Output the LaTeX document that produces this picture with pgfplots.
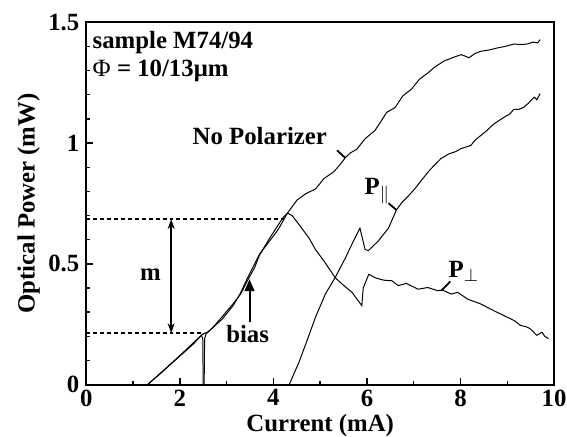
\documentclass[border=0pt]{standalone}
\usepackage{fontspec}
\setmainfont{Liberation Serif}
\usepackage{pgfplots}
\pgfplotsset{compat=1.18}
\usetikzlibrary{arrows.meta}
\begin{document}
\newcommand{\ff}{\fontsize{12.5}{14}\selectfont\bfseries}
\begin{tikzpicture}
\begin{axis}[
  scale only axis, width=236pt, height=182.75pt,
  xmin=0, xmax=10, ymin=0, ymax=1.5,
  axis line style={line width=1pt},
  tick pos=left, tick align=inside,
  xtick={0,2,4,6,8,10}, minor xtick={1,3,5,7,9},
  ytick={0,0.5,1,1.5}, minor ytick={0.1,0.2,0.3,0.4,0.6,0.7,0.8,0.9,1.1,1.2,1.3,1.4},
  major tick length=3.5pt, minor tick length=2pt,
  every tick/.style={line width=0.7pt, black},
  /pgf/number format/assume math mode=true,
  ticklabel style={font=\ff},
  xticklabel style={yshift=1pt},
  xlabel={Current (mA)}, ylabel={Optical Power (mW)},
  every axis x label/.style={at={(axis description cs:0.5,0)}, anchor=north, yshift=-11.5pt, font=\ff},
  every axis y label/.style={at={(axis description cs:-0.123,0.5)}, rotate=90, anchor=center, font=\ff},
  clip=false,
]
% No polarizer
\addplot[black, line width=0.5pt] coordinates {
(1.31,0) (1.6,0.05) (2.0,0.12) (2.3,0.175) (2.5,0.21) (2.6,0.218) (2.9,0.27)
(3.14,0.327) (3.3,0.38) (3.45,0.443) (3.6,0.50) (3.7,0.539) (3.9,0.59) (4.05,0.628)
(4.12,0.648) (4.30,0.71) (4.51,0.765) (4.69,0.79) (4.90,0.81) (5.08,0.853)
(5.29,0.881) (5.40,0.905) (5.54,0.940) (5.65,0.96) (5.78,0.974) (5.96,1.018)
(6.17,1.052) (6.31,1.093) (6.42,1.127) (6.60,1.147) (6.77,1.196) (6.95,1.223)
(7.12,1.264) (7.30,1.29) (7.45,1.315) (7.65,1.34) (7.85,1.355) (8.01,1.366) (8.10,1.36)
(8.18,1.353) (8.30,1.37) (8.43,1.38) (8.6,1.385) (8.79,1.394) (8.95,1.40) (9.14,1.41)
(9.30,1.408) (9.42,1.41) (9.55,1.418) (9.65,1.415) (9.70,1.428)
};
% P parallel
\addplot[black, line width=0.5pt] coordinates {
(1.31,0) (1.6,0.048) (2.0,0.118) (2.3,0.17) (2.46,0.205) (2.49,0.19) (2.50,0)
(4.34,0) (4.45,0.05) (4.55,0.094) (4.72,0.183) (4.90,0.279) (5.11,0.375) (5.32,0.443)
(5.54,0.525) (5.71,0.594) (5.85,0.648) (5.96,0.559) (6.03,0.555) (6.24,0.594)
(6.46,0.648) (6.63,0.723) (6.75,0.755) (6.88,0.78) (7.02,0.81) (7.16,0.845)
(7.34,0.888) (7.45,0.91) (7.58,0.936) (7.76,0.956) (7.90,0.965) (8.01,0.977)
(8.22,0.99) (8.30,1.01) (8.43,1.031) (8.55,1.05) (8.71,1.079) (8.93,1.107) (9.05,1.12)
(9.14,1.14) (9.25,1.14) (9.35,1.148) (9.45,1.165) (9.53,1.182) (9.58,1.19)
(9.63,1.179) (9.70,1.205)
};
% P perpendicular
\addplot[black, line width=0.5pt] coordinates {
(2.52,0) (2.53,0.19) (2.56,0.21) (2.7,0.235) (2.9,0.28) (3.14,0.335) (3.3,0.375)
(3.45,0.432) (3.6,0.485) (3.7,0.535) (3.9,0.60) (4.05,0.645) (4.2,0.69) (4.30,0.71)
(4.40,0.70) (4.55,0.662) (4.76,0.607) (4.90,0.559) (5.08,0.512) (5.32,0.443)
(5.47,0.416) (5.68,0.382) (5.89,0.327) (5.92,0.40) (6.04,0.457) (6.17,0.443)
(6.30,0.435) (6.38,0.432) (6.53,0.43) (6.67,0.41) (6.84,0.419) (7.02,0.402)
(7.09,0.395) (7.30,0.402) (7.51,0.389) (7.62,0.391) (7.80,0.375) (7.94,0.382)
(8.15,0.354) (8.43,0.334) (8.71,0.306) (9.00,0.279) (9.15,0.265) (9.28,0.245)
(9.40,0.24) (9.49,0.231) (9.55,0.22) (9.63,0.204) (9.68,0.21) (9.74,0.217)
(9.80,0.20) (9.88,0.19)
};
% dashed levels
\addplot[black, line width=0.7pt, dash pattern=on 2pt off 1.5pt] coordinates {(0,0.685) (4.3,0.685)};
\addplot[black, line width=0.7pt, dash pattern=on 2pt off 1.5pt] coordinates {(0,0.213) (2.5,0.213)};
% m arrow
\draw[line width=1.3pt, {Stealth[length=5pt,width=3.5pt]}-{Stealth[length=5pt,width=3.5pt]}] (axis cs:1.815,0.213) -- (axis cs:1.815,0.685);
\node[font=\ff] at (axis cs:1.37,0.457) {m};
% bias arrow
\draw[line width=1pt, -{Triangle[length=6pt,width=5pt]}] (axis cs:3.49,0.259) -- (axis cs:3.49,0.436);
\node[font=\ff] at (axis cs:3.45,0.21) {bias};
% leaders
\draw[line width=0.9pt] (axis cs:5.36,0.970) -- (axis cs:5.54,0.938);
\draw[line width=0.9pt] (axis cs:6.46,0.751) -- (axis cs:6.63,0.723);
\draw[line width=0.9pt] (axis cs:7.78,0.427) -- (axis cs:7.60,0.391);
% labels
\node[font=\ff] at (axis cs:3.71,1.03) {No Polarizer};
\node[font=\ff] at (axis cs:6.22,0.80) {P$_{\|}$};
\node[font=\ff] at (axis cs:8.07,0.47) {P$_{\perp}$};
\node[font=\ff, anchor=north west, align=left, inner sep=0pt] at (axis cs:0.13,1.465) {sample M74/94\\{\mdseries Φ} = 10/13μm};
\end{axis}
\pgfresetboundingbox
\path[use as bounding box] ([xshift=-41pt,yshift=-26pt]current axis.south west) rectangle ([xshift=6.5pt,yshift=11.25pt]current axis.north east);
\end{tikzpicture}
\end{document}
